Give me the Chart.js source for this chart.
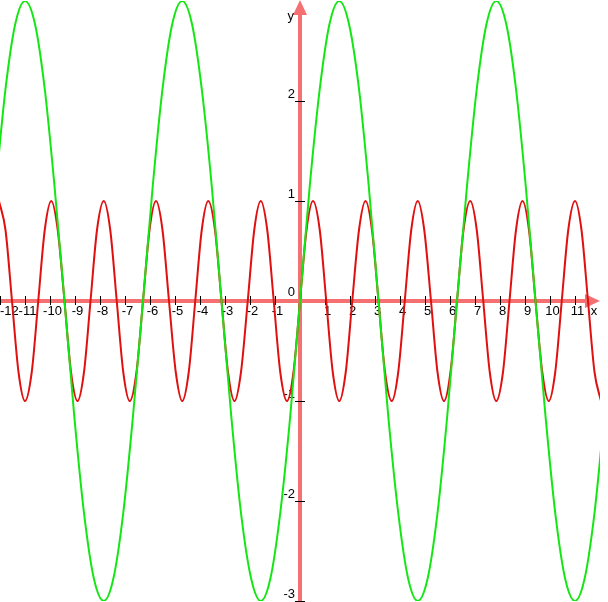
<!DOCTYPE html>
<html>
<head>
<meta charset="utf-8">
<script src="https://cdn.jsdelivr.net/npm/chart.js@4"></script>
<style>
  html, body { margin: 0; padding: 0; background: #fff; }
  #wrap { width: 608px; height: 602px; }
</style>
</head>
<body>
<div id="wrap"><canvas id="graph" width="608" height="602"></canvas></div>
<script>
// curve values (x, y pairs)
const redX = [
  -12.04, -11.78, -11.52, -11.26, -11.00, -10.73, -10.47, -10.21,
  -9.95, -9.69, -9.42, -9.16, -8.90, -8.64, -8.38, -8.12,
  -7.85, -7.59, -7.33, -7.07, -6.81, -6.54, -6.28, -6.02,
  -5.76, -5.50, -5.24, -4.97, -4.71, -4.45, -4.19, -3.93,
  -3.67, -3.40, -3.14, -2.88, -2.62, -2.36, -2.09, -1.83,
  -1.57, -1.31, -1.05, -0.79, -0.52, -0.26, 0,
  0.26, 0.52, 0.79, 1.05, 1.31, 1.57, 1.83, 2.09,
  2.36, 2.62, 2.88, 3.14, 3.40, 3.67, 3.93, 4.19,
  4.45, 4.71, 4.97, 5.24, 5.50, 5.76, 6.02, 6.28,
  6.54, 6.81, 7.07, 7.33, 7.59, 7.85, 8.12, 8.38,
  8.64, 8.90, 9.16, 9.42, 9.69, 9.95, 10.21, 10.47,
  10.73, 11.00, 11.26, 11.52, 11.78, 12.04
];
const redY = [
  1, 0.71, 0, -0.71, -1, -0.71, 0, 0.71,
  1, 0.71, 0, -0.71, -1, -0.71, 0, 0.71,
  1, 0.71, 0, -0.71, -1, -0.71, 0, 0.71,
  1, 0.71, 0, -0.71, -1, -0.71, 0, 0.71,
  1, 0.71, 0, -0.71, -1, -0.71, 0, 0.71,
  1, 0.71, 0, -0.71, -1, -0.71, 0,
  0.71, 1, 0.71, 0, -0.71, -1, -0.71, 0,
  0.71, 1, 0.71, 0, -0.71, -1, -0.71, 0,
  0.71, 1, 0.71, 0, -0.71, -1, -0.71, 0,
  0.71, 1, 0.71, 0, -0.71, -1, -0.71, 0,
  0.71, 1, 0.71, 0, -0.71, -1, -0.71, 0,
  0.71, 1, 0.71, 0, -0.71, -1
];
const greenX = [
  -12.17, -11.78, -11.39, -11.00, -10.60, -10.21, -9.82, -9.42,
  -9.03, -8.64, -8.25, -7.85, -7.46, -7.07, -6.68, -6.28,
  -5.89, -5.50, -5.11, -4.71, -4.32, -3.93, -3.53, -3.14,
  -2.75, -2.36, -1.96, -1.57, -1.18, -0.79, -0.39, 0,
  0.39, 0.79, 1.18, 1.57, 1.96, 2.36, 2.75, 3.14,
  3.53, 3.93, 4.32, 4.71, 5.11, 5.50, 5.89, 6.28,
  6.68, 7.07, 7.46, 7.85, 8.25, 8.64, 9.03, 9.42,
  9.82, 10.21, 10.60, 11.00, 11.39, 11.78, 12.17
];
const greenY = [
  1.15, 2.12, 2.77, 3, 2.77, 2.12, 1.15, 0,
  -1.15, -2.12, -2.77, -3, -2.77, -2.12, -1.15, 0,
  1.15, 2.12, 2.77, 3, 2.77, 2.12, 1.15, 0,
  -1.15, -2.12, -2.77, -3, -2.77, -2.12, -1.15, 0,
  1.15, 2.12, 2.77, 3, 2.77, 2.12, 1.15, 0,
  -1.15, -2.12, -2.77, -3, -2.77, -2.12, -1.15, 0,
  1.15, 2.12, 2.77, 3, 2.77, 2.12, 1.15, 0,
  -1.15, -2.12, -2.77, -3, -2.77, -2.12, -1.15
];
const xTicks = [-12, -11, -10, -9, -8, -7, -6, -5, -4, -3, -2, -1, 1, 2, 3, 4, 5, 6, 7, 8, 9, 10, 11];
const yTicks = [-3, -2, -1, 1, 2];

function pairs(xs, ys) {
  return xs.map((x, i) => ({ x: x, y: ys[i] }));
}

// axes with arrows, tick marks and labels, drawn under the curves
const axesPlugin = {
  id: 'axes',
  beforeDatasetsDraw(chart) {
    const c = chart.ctx;
    const sx = chart.scales.x, sy = chart.scales.y;
    const x0 = sx.getPixelForValue(0), y0 = sy.getPixelForValue(0);
    const axisCol = '#f57171';
    c.save();
    c.strokeStyle = axisCol;
    c.fillStyle = axisCol;
    c.lineWidth = 4;
    c.beginPath();
    c.moveTo(sx.left, y0);
    c.lineTo(sx.right - 10, y0);
    c.moveTo(x0, sy.bottom);
    c.lineTo(x0, sy.top + 10);
    c.stroke();
    c.beginPath();
    c.moveTo(sx.right, y0);
    c.lineTo(sx.right - 15, y0 - 7);
    c.lineTo(sx.right - 15, y0 + 7);
    c.closePath();
    c.fill();
    c.beginPath();
    c.moveTo(x0, sy.top - 1);
    c.lineTo(x0 - 7, sy.top + 14);
    c.lineTo(x0 + 7, sy.top + 14);
    c.closePath();
    c.fill();

    c.strokeStyle = '#000';
    c.lineWidth = 1;
    c.fillStyle = '#000';
    c.font = '13px "Liberation Sans", Arial, sans-serif';
    c.textBaseline = 'top';
    c.textAlign = 'center';
    xTicks.forEach(v => {
      const px = Math.round(sx.getPixelForValue(v)) + 0.5;
      c.beginPath();
      c.moveTo(px, y0 - 5);
      c.lineTo(px, y0 + 4);
      c.stroke();
      const lbl = String(v);
      const w = c.measureText(lbl).width;
      const cx = Math.max(px + 2, w / 2);
      c.fillText(lbl, cx, y0 + 4);
    });
    c.fillText('x', sx.right - 6, y0 + 4);
    c.textAlign = 'right';
    c.textBaseline = 'bottom';
    yTicks.forEach(v => {
      const py = Math.round(sy.getPixelForValue(v)) + 0.5;
      c.beginPath();
      c.moveTo(x0 - 5, py);
      c.lineTo(x0 + 5, py);
      c.stroke();
      c.fillText(String(v), x0 - 5, py - 1);
    });
    c.fillText('0', x0 - 5, y0 - 2);
    c.textBaseline = 'alphabetic';
    c.fillText('y', x0 - 6, 20);
    c.restore();
  }
};

new Chart(document.getElementById('graph').getContext('2d'), {
  type: 'scatter',
  data: {
    datasets: [{
      label: 'green',
      data: pairs(greenX, greenY),
      showLine: true,
      borderColor: '#14e614',
      borderWidth: 2,
      pointRadius: 0,
      cubicInterpolationMode: 'monotone'
    }, {
      label: 'red',
      data: pairs(redX, redY),
      showLine: true,
      borderColor: '#e01010',
      borderWidth: 2,
      pointRadius: 0,
      cubicInterpolationMode: 'monotone'
    }]
  },
  options: {
    responsive: false,
    animation: false,
    devicePixelRatio: 1,
    layout: { padding: { left: 0, top: 1, right: 8, bottom: 1 } },
    scales: {
      x: { type: 'linear', min: -12, max: 12, display: false },
      y: { type: 'linear', min: -3, max: 3, display: false }
    },
    plugins: {
      legend: { display: false },
      tooltip: { enabled: false }
    }
  },
  plugins: [axesPlugin]
});
</script>
</body>
</html>
